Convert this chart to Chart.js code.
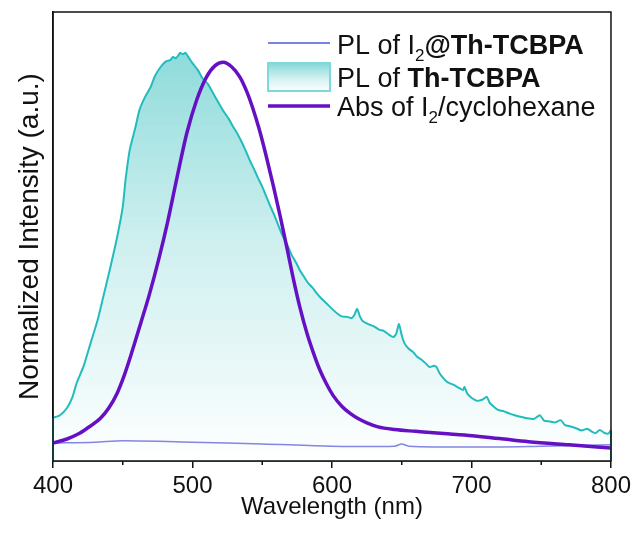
<!DOCTYPE html>
<html>
<head>
<meta charset="utf-8">
<title>PL / Abs spectra</title>
<script src="https://cdn.jsdelivr.net/npm/chart.js@4.4.1/dist/chart.umd.min.js"></script>
<style>
  html, body { margin: 0; padding: 0; background: #fff; overflow: hidden; }
  #wrap { width: 635px; height: 535px; position: relative; }
</style>
</head>
<body>
<div id="wrap"><canvas id="spectra"></canvas></div>
<script>
// PL of Th-TCBPA (normalized 0..1)
const plWl = [400, 405, 410, 414, 417, 422, 427, 432, 436, 441, 446, 450, 452, 455, 459, 462, 466, 470, 473, 477,
  481, 484, 486, 488, 490, 491, 493, 495, 497, 500, 504, 507, 511, 515, 519, 522, 526, 529, 532, 535,
  538, 541, 544, 547, 550, 553, 556, 559, 562, 565, 568, 571, 574, 577, 580, 583, 586, 589, 592, 595,
  598, 601, 604, 607, 611, 614, 616, 618, 620, 622, 626, 630, 634, 637, 641, 644, 646, 648, 650, 652,
  655, 658, 661, 664, 667, 670, 673, 675, 677, 680, 683, 687, 691, 694, 695, 697, 700, 704, 708, 711,
  713, 716, 719, 723, 727, 731, 736, 740, 745, 749, 752, 756, 760, 764, 767, 771, 775, 779, 783, 786,
  789, 792, 795, 798, 800];
const plTh = [0.096, 0.102, 0.118, 0.143, 0.174, 0.212, 0.263, 0.314, 0.365, 0.430, 0.499, 0.566, 0.626, 0.693, 0.742, 0.782, 0.811, 0.833, 0.857, 0.877,
  0.890, 0.893, 0.900, 0.897, 0.904, 0.909, 0.906, 0.909, 0.900, 0.886, 0.870, 0.853, 0.840, 0.818, 0.796, 0.780, 0.762, 0.745, 0.730, 0.712,
  0.692, 0.670, 0.651, 0.630, 0.611, 0.588, 0.566, 0.545, 0.521, 0.499, 0.481, 0.459, 0.443, 0.425, 0.410, 0.396, 0.386, 0.374, 0.363, 0.354,
  0.345, 0.336, 0.328, 0.322, 0.321, 0.318, 0.325, 0.339, 0.322, 0.312, 0.305, 0.300, 0.292, 0.290, 0.281, 0.276, 0.283, 0.305, 0.280, 0.262,
  0.250, 0.243, 0.232, 0.226, 0.218, 0.209, 0.212, 0.209, 0.196, 0.184, 0.175, 0.170, 0.163, 0.158, 0.165, 0.150, 0.141, 0.134, 0.137, 0.143,
  0.130, 0.121, 0.114, 0.111, 0.106, 0.102, 0.098, 0.095, 0.094, 0.102, 0.090, 0.088, 0.086, 0.091, 0.080, 0.077, 0.073, 0.068, 0.072, 0.066,
  0.062, 0.069, 0.063, 0.061, 0.069];

// Abs of I2/cyclohexane
const absWl = [400, 410, 418, 425, 430, 434, 440, 446, 451, 457, 463, 469, 476, 482, 489, 496, 503, 510, 516, 522,
  528, 534, 539, 543, 548, 553, 558, 563, 568, 572, 577, 582, 587, 591, 596, 601, 607, 613, 619, 625,
  633, 645, 660, 680, 695, 720, 741, 770, 800];
const absI2 = [0.040, 0.049, 0.060, 0.074, 0.085, 0.095, 0.118, 0.151, 0.190, 0.247, 0.308, 0.370, 0.452, 0.530, 0.633, 0.731, 0.804, 0.855, 0.880, 0.888,
  0.878, 0.855, 0.822, 0.788, 0.737, 0.677, 0.612, 0.543, 0.470, 0.410, 0.342, 0.285, 0.238, 0.205, 0.172, 0.145, 0.122, 0.106, 0.094, 0.085,
  0.076, 0.070, 0.066, 0.061, 0.058, 0.050, 0.043, 0.036, 0.029];

// PL of I2@Th-TCBPA
const plI2Wl = [400, 430, 450, 500, 550, 600, 645, 650, 655, 700, 750, 800];
const plI2 = [0.040, 0.042, 0.045, 0.042, 0.038, 0.033, 0.033, 0.038, 0.033, 0.031, 0.033, 0.036];

const xTicks = [400, 500, 600, 700, 800];
const minorTicks = [450, 550, 650, 750];

const FONT = '"Liberation Sans", Arial, sans-serif';
const TEAL = '#22bcbc';
const PURPLE = '#6610c4';
const BLUE = '#8585e2';

const pts = (xs, ys) => xs.map((v, i) => ({ x: v, y: ys[i] }));

function tealGradient(ctx, top, bottom) {
  const g = ctx.createLinearGradient(0, top, 0, bottom);
  g.addColorStop(0, 'rgba(120,212,212,0.95)');
  g.addColorStop(0.55, 'rgba(200,237,237,0.8)');
  g.addColorStop(1, 'rgba(255,255,255,0.9)');
  return g;
}

// draw text made of runs (regular / bold / subscript)
function drawRuns(ctx, x, y, runs) {
  runs.forEach(r => {
    const size = r.sub ? 17 : 27;
    ctx.font = (r.bold ? 'bold ' : '') + size + 'px ' + FONT;
    ctx.fillText(r.t, x, r.sub ? y + 7 : y);
    x += ctx.measureText(r.t).width;
  });
}

const extras = {
  id: 'extras',
  afterDraw(chart) {
    const { ctx, chartArea: a, scales: { x, y } } = chart;
    ctx.save();

    // vertical edges of the filled PL area
    ctx.strokeStyle = TEAL;
    ctx.lineWidth = 2;
    ctx.beginPath();
    ctx.moveTo(x.getPixelForValue(plWl[0]), y.getPixelForValue(plTh[0]));
    ctx.lineTo(x.getPixelForValue(plWl[0]), y.getPixelForValue(0));
    ctx.moveTo(x.getPixelForValue(plWl[plWl.length - 1]), y.getPixelForValue(plTh[plTh.length - 1]));
    ctx.lineTo(x.getPixelForValue(plWl[plWl.length - 1]), y.getPixelForValue(0));
    ctx.stroke();

    // frame
    ctx.strokeStyle = '#111';
    ctx.lineWidth = 1.5;
    ctx.strokeRect(a.left, a.top, a.right - a.left, a.bottom - a.top);

    // minor ticks
    ctx.beginPath();
    minorTicks.forEach(v => {
      const px = x.getPixelForValue(v);
      ctx.moveTo(px, a.bottom);
      ctx.lineTo(px, a.bottom + 4);
    });
    ctx.stroke();

    // legend
    const lx0 = 268, lx1 = 330, tx = 337;
    ctx.lineWidth = 1.6;
    ctx.strokeStyle = '#4a5ad6';
    ctx.beginPath(); ctx.moveTo(lx0, 43); ctx.lineTo(lx1, 43); ctx.stroke();

    ctx.fillStyle = tealGradient(ctx, 63, 91);
    ctx.fillRect(lx0, 63, lx1 - lx0, 28);
    ctx.strokeStyle = '#80d9d9';
    ctx.lineWidth = 2;
    ctx.strokeRect(lx0, 63, lx1 - lx0, 28);

    ctx.strokeStyle = PURPLE;
    ctx.lineWidth = 3.5;
    ctx.beginPath(); ctx.moveTo(lx0, 106); ctx.lineTo(lx1, 106); ctx.stroke();

    ctx.fillStyle = '#111';
    ctx.textBaseline = 'alphabetic';
    ctx.textAlign = 'left';
    drawRuns(ctx, tx, 54, [{ t: 'PL of I' }, { t: '2', sub: true }, { t: '@Th-TCBPA', bold: true }]);
    drawRuns(ctx, tx, 87, [{ t: 'PL of ' }, { t: 'Th-TCBPA', bold: true }]);
    drawRuns(ctx, tx, 116, [{ t: 'Abs of I' }, { t: '2', sub: true }, { t: '/cyclohexane' }]);

    ctx.restore();
  }
};

const chart = new Chart(document.getElementById('spectra'), {
  type: 'line',
  data: {
    datasets: [
      {
        label: 'Abs of I2/cyclohexane',
        data: pts(absWl, absI2),
        borderColor: PURPLE,
        borderWidth: 3.5,
        pointRadius: 0,
        cubicInterpolationMode: 'monotone',
        fill: false,
        order: 0
      },
      {
        label: 'PL of I2@Th-TCBPA',
        data: pts(plI2Wl, plI2),
        borderColor: BLUE,
        borderWidth: 1.5,
        pointRadius: 0,
        tension: 0.3,
        fill: false,
        order: 1
      },
      {
        label: 'PL of Th-TCBPA',
        data: pts(plWl, plTh),
        borderColor: TEAL,
        borderWidth: 2,
        pointRadius: 0,
        tension: 0.2,
        fill: 'origin',
        backgroundColor: (c) => {
          const area = c.chart.chartArea;
          if (!area) return 'rgba(120,212,212,0.5)';
          return tealGradient(c.chart.ctx, area.top, area.bottom);
        },
        order: 2
      }
    ]
  },
  options: {
    responsive: true,
    maintainAspectRatio: false,
    animation: false,
    layout: { padding: { left: 13, right: 24, top: 12, bottom: 0 } },
    plugins: {
      legend: { display: false },
      tooltip: { enabled: false }
    },
    scales: {
      x: {
        type: 'linear',
        min: 400,
        max: 800,
        afterBuildTicks: (s) => { s.ticks = xTicks.map(v => ({ value: v })); },
        ticks: { font: { size: 24, family: FONT }, color: '#111', padding: 4, maxRotation: 0 },
        grid: { display: true, drawOnChartArea: false, drawTicks: true, tickLength: 7, color: '#111', lineWidth: 1.5 },
        border: { display: true, color: '#111', width: 1.5 },
        title: { display: true, text: 'Wavelength (nm)', color: '#111', font: { size: 24, family: FONT }, padding: { top: 0, bottom: 13 } },
        afterFit: (s) => { s.height = 74; }
      },
      y: {
        min: 0,
        max: 1,
        ticks: { display: false },
        grid: { display: false },
        border: { display: true, color: '#111', width: 1.5 },
        title: { display: true, text: 'Normalized Intensity (a.u.)', color: '#111', font: { size: 28, family: FONT }, padding: { top: 0, bottom: 0 } },
        afterFit: (s) => { s.width = 40; }
      }
    }
  },
  plugins: [extras]
});
</script>
</body>
</html>
